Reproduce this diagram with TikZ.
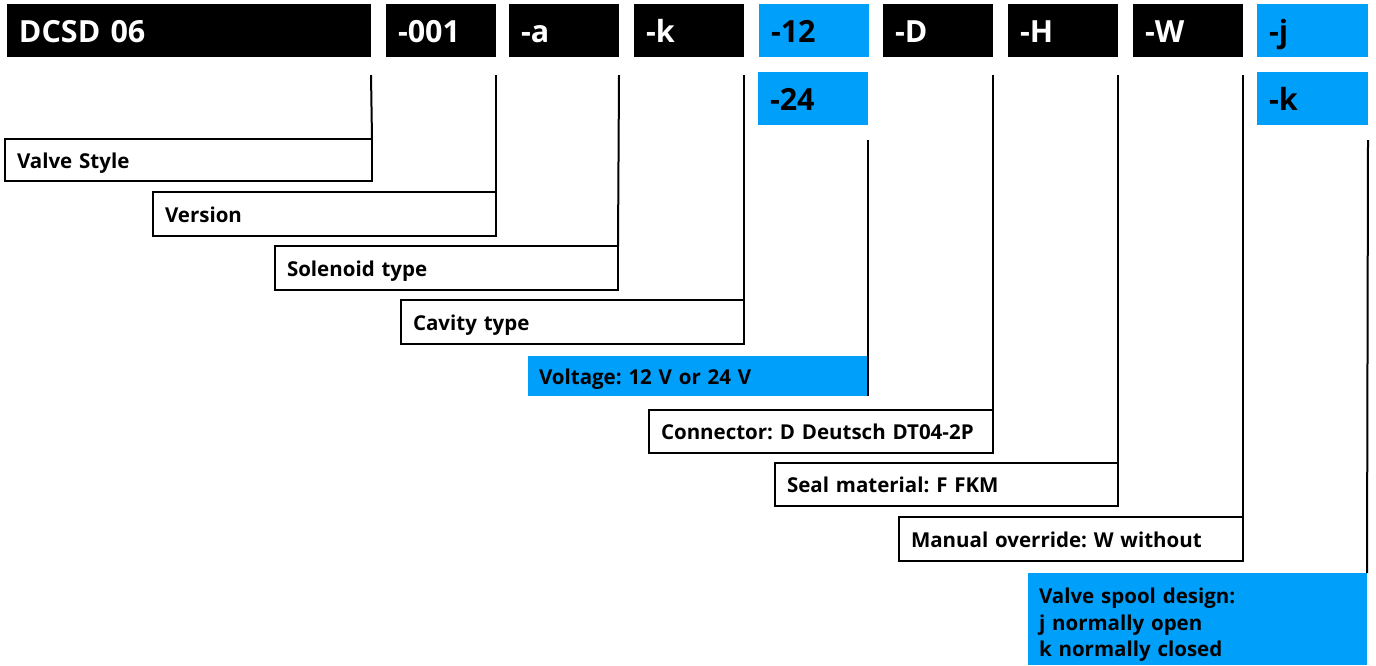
\documentclass[tikz,border=0pt]{standalone}
\usepackage{fontspec}
\setmainfont{Open Sans}
\frenchspacing
\definecolor{rblue}{RGB}{0,159,250}
\begin{document}
\begin{tikzpicture}[x=1pt,y=-1pt,
  base/.style={anchor=north west, inner xsep=12pt, inner ysep=0pt, align=left, outer sep=0pt},
  topbox/.style={base, fill=black, text=white, minimum height=53pt, text height=23pt, text depth=0pt, font=\bfseries\fontsize{30.5}{32}\selectfont},
  topblue/.style={topbox, fill=rblue, text=black},
  lab/.style={base, draw=black, line width=2pt, fill=white, text height=18pt, text depth=2pt, font=\bfseries\fontsize{20.5}{26.5}\selectfont},
  labblue/.style={base, fill=rblue, text height=18pt, text depth=2pt, font=\bfseries\fontsize{20.5}{26.5}\selectfont, inner xsep=11pt},
  multiblue/.style={base, fill=rblue, font=\bfseries\fontsize{20.5}{26.5}\selectfont, inner xsep=11pt},
  conn/.style={draw=black, line width=2pt}
]
\useasboundingbox (0,0) rectangle (1376,665);
% top row
\node[topbox, text width=340pt] (t1) at (7,4) {DCSD 06};
\node[topbox, text width=86pt] (t2) at (386,4) {-001};
\node[topbox, text width=86pt] (t3) at (509,4) {-a};
\node[topbox, text width=86pt] (t4) at (634,4) {-k};
\node[topblue, text width=86pt] (t5) at (759,4) {-12};
\node[topbox, text width=86pt] (t6) at (883,4) {-D};
\node[topbox, text width=86pt] (t7) at (1008,4) {-H};
\node[topbox, text width=86pt] (t8) at (1133,4) {-W};
\node[topblue, text width=87pt] (t9) at (1257,4) {-j};
% second row
\node[topblue, text width=86pt] (t5b) at (758,72) {-24};
\node[topblue, text width=87pt] (t9b) at (1257,72) {-k};
% labels
\node[lab, text width=343pt, minimum height=42pt] (l1) at (5,139) {Valve Style};
\node[lab, text width=319pt, minimum height=44pt] (l2) at (153,192) {Version};
\node[lab, text width=319pt, minimum height=44pt] (l3) at (275,246) {Solenoid type};
\node[lab, text width=319pt, minimum height=44pt] (l4) at (401,300) {Cavity type};
\node[labblue, text width=318pt, minimum height=40pt] (l5) at (528,356) {Voltage: 12 V or 24 V};
\node[lab, text width=320pt, minimum height=43pt] (l6) at (649,410) {Connector: D Deutsch DT04-2P};
\node[lab, text width=319pt, minimum height=43pt] (l7) at (775,463) {Seal material: F FKM};
\node[lab, text width=320pt, minimum height=44pt] (l8) at (899,517) {Manual override: W without};
\node[multiblue, text width=317pt, minimum height=92pt] (l9) at (1028,573) {\rule{0pt}{27pt}Valve spool design:\\j normally open\\k normally closed};
% connectors
\draw[conn] ([yshift=-18pt]t1.south east) -- (l1.north east);
\draw[conn] ([yshift=-18pt]t2.south east) -- (l2.north east);
\draw[conn] ([yshift=-18pt]t3.south east) -- (l3.north east);
\draw[conn] ([yshift=-18pt]t4.south east) -- (l4.north east);
\draw[conn] ([yshift=-15pt]t5b.south east) -- (l5.south east);
\draw[conn] ([yshift=-18pt]t6.south east) -- (l6.north east);
\draw[conn] ([yshift=-18pt]t7.south east) -- (l7.north east);
\draw[conn] ([yshift=-18pt]t8.south east) -- (l8.north east);
\draw[conn] ([yshift=-15pt]t9b.south east) -- (l9.north east);
\end{tikzpicture}
\end{document}
